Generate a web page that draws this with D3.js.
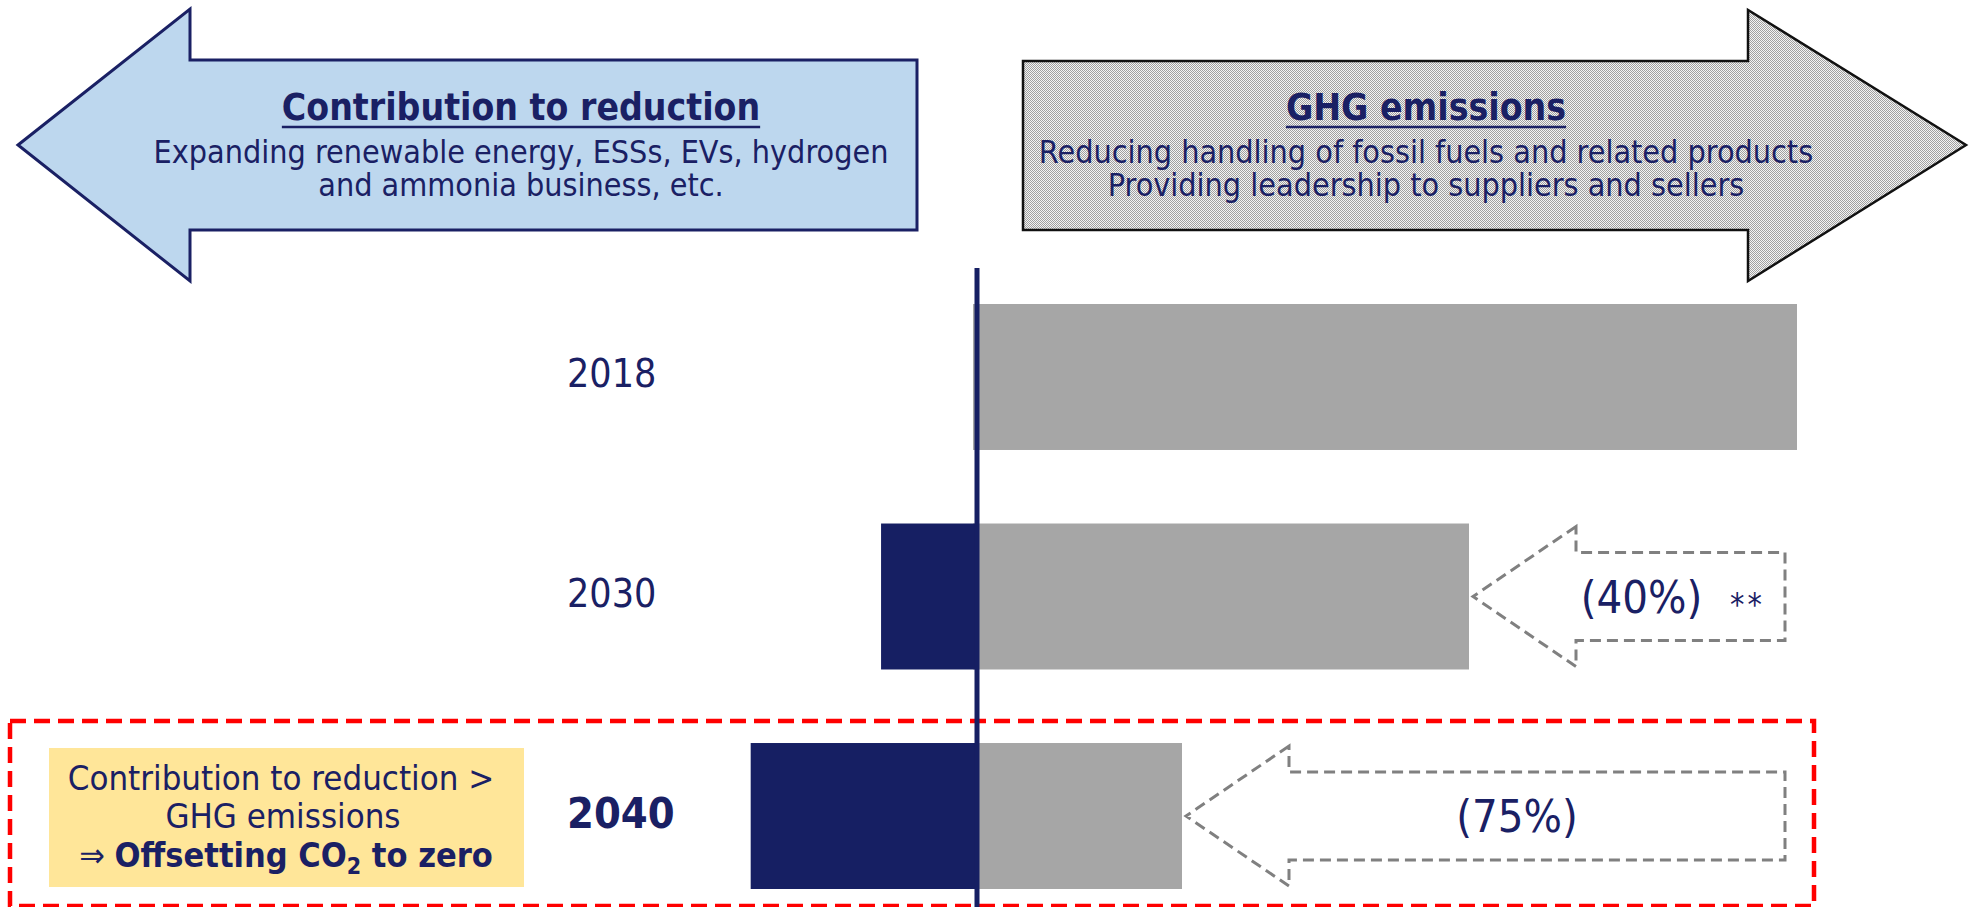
<!DOCTYPE html>
<html>
<head>
    <script src="https://d3js.org/d3.v7.min.js"></script>
    <style>
        body { margin: 0; background: #fff; }
        text {
            font-family: "DejaVu Sans Condensed", "DejaVu Sans", sans-serif;
            font-stretch: condensed;
            fill: #1a2064;
        }
    </style>
</head>
<body>
    <div id="chart"></div>
    <script>
        // data
        var years = ["2018", "2030", "2040"];
        var emissions = [100, 60, 25];          // GHG emissions, 2018 = 100
        var contributions = [0, 11.7, 27.6];    // contribution to reduction
        var reductionLabels = [null, "(40%)", "(75%)"];
        var noteMarks = [null, "**", null];

        var leftTitle = "Contribution to reduction";
        var leftLines = ["Expanding renewable energy, ESSs, EVs, hydrogen", "and ammonia business, etc."];
        var rightTitle = "GHG emissions";
        var rightLines = ["Reducing handling of fossil fuels and related products", "Providing leadership to suppliers and sellers"];

        var navy = "#161f63";
        var gray = "#a6a6a6";

        var svg = d3.select("#chart")
            .append("svg")
            .attr("width", 1970)
            .attr("height", 907);

        var defs = svg.append("defs");
        var pat = defs.append("pattern")
            .attr("id", "dots")
            .attr("width", 2)
            .attr("height", 2)
            .attr("patternUnits", "userSpaceOnUse");
        pat.append("rect").attr("width", 2).attr("height", 2).attr("fill", "#f4f4f4");
        pat.append("rect").attr("width", 1).attr("height", 1).attr("fill", "#a0a0a0");
        pat.append("rect").attr("x", 1).attr("y", 1).attr("width", 1).attr("height", 1).attr("fill", "#a0a0a0");

        var x = d3.scaleLinear().domain([0, 100]).range([977, 1797]);
        var y = d3.scaleBand().domain(years).range([304, 889]).paddingInner(0.335).paddingOuter(0);

        // big arrows on top
        var line = d3.line();
        svg.append("path")
            .attr("d", line([[18, 145], [190, 9], [190, 60], [917, 60], [917, 230], [190, 230], [190, 281]]) + "Z")
            .attr("fill", "#bdd7ee")
            .attr("stroke", "#1a2064")
            .attr("stroke-width", 3);
        svg.append("path")
            .attr("d", line([[1023, 61], [1748, 61], [1748, 10], [1966, 145], [1748, 281], [1748, 230], [1023, 230]]) + "Z")
            .attr("fill", "url(#dots)")
            .attr("stroke", "#111")
            .attr("stroke-width", 2.5);

        // title + subtitle as one text block
        function block(cx, title, lines) {
            var t = svg.append("text")
                .attr("x", cx).attr("y", 120)
                .attr("text-anchor", "middle");
            var tt = t.append("tspan")
                .attr("x", cx)
                .style("font-weight", "bold")
                .style("font-size", "37px")
                .text(title);
            lines.forEach(function (l, i) {
                t.append("tspan")
                    .attr("x", cx)
                    .attr("dy", i == 0 ? 43 : 33)
                    .style("font-size", "32px")
                    .text(l);
            });
            // underline drawn as a line
            var w = tt.node().getComputedTextLength();
            svg.append("line")
                .attr("x1", cx - w / 2).attr("x2", cx + w / 2)
                .attr("y1", 127).attr("y2", 127)
                .attr("stroke", "#1a2064")
                .attr("stroke-width", 2.5);
        }
        block(521, leftTitle, leftLines);
        block(1426, rightTitle, rightLines);

        // red dashed frame around 2040
        svg.append("rect")
            .attr("x", 10).attr("y", 721)
            .attr("width", 1804).attr("height", 185)
            .attr("fill", "none")
            .attr("stroke", "#ff0000")
            .attr("stroke-width", 4.5)
            .attr("stroke-dasharray", "16,8");

        // bars
        svg.selectAll(".em")
            .data(years)
            .enter()
            .append("rect")
            .attr("class", "em")
            .attr("x", x(0) - 4)
            .attr("y", function (d) { return y(d); })
            .attr("width", function (d, i) { return x(emissions[i]) - x(0) + 4; })
            .attr("height", y.bandwidth())
            .attr("fill", gray);

        svg.selectAll(".co")
            .data(years)
            .enter()
            .append("rect")
            .attr("class", "co")
            .attr("x", function (d, i) { return x(-contributions[i]); })
            .attr("y", function (d) { return y(d); })
            .attr("width", function (d, i) { return x(0) - x(-contributions[i]); })
            .attr("height", y.bandwidth())
            .attr("fill", navy);

        // zero line
        svg.append("line")
            .attr("x1", x(0)).attr("x2", x(0))
            .attr("y1", 268).attr("y2", 907)
            .attr("stroke", navy)
            .attr("stroke-width", 5);

        // year labels
        svg.selectAll(".yr")
            .data(years)
            .enter()
            .append("text")
            .attr("class", "yr")
            .attr("x", 567)
            .attr("y", function (d, i) { return y(d) + y.bandwidth() / 2 + (i == 2 ? 12 : 10); })
            .style("font-size", function (d, i) { return i == 2 ? "43px" : "39px"; })
            .style("font-weight", function (d, i) { return i == 2 ? "bold" : "normal"; })
            .text(function (d) { return d; });

        // dashed reduction arrows
        years.forEach(function (d, i) {
            if (!reductionLabels[i]) return;
            var cy = y(d) + y.bandwidth() / 2;
            var tip = x(emissions[i]) + 4;
            var base = tip + 103;
            var right = x(100) - 12;
            svg.append("path")
                .attr("d", line([[base, cy - 70], [tip, cy], [base, cy + 70], [base, cy + 44], [right, cy + 44], [right, cy - 44], [base, cy - 44]]) + "Z")
                .attr("fill", "none")
                .attr("stroke", "#808080")
                .attr("stroke-width", 3)
                .attr("stroke-dasharray", "11,6");
            var lx = (base + right) / 2 - (noteMarks[i] ? 39 : 20);
            svg.append("text")
                .attr("x", lx)
                .attr("y", cy + 16)
                .attr("text-anchor", "middle")
                .style("font-size", "45px")
                .text(reductionLabels[i]);
            if (noteMarks[i]) {
                svg.append("text")
                    .attr("x", 1730)
                    .attr("y", cy + 18)
                    .style("font-size", "32px")
                    .style("letter-spacing", "3px")
                    .text(noteMarks[i]);
            }
        });

        // yellow note box
        svg.append("rect")
            .attr("x", 49).attr("y", 748)
            .attr("width", 475).attr("height", 139)
            .attr("fill", "#ffe699");
        svg.append("text")
            .attr("x", 281).attr("y", 790)
            .attr("text-anchor", "middle")
            .style("font-size", "34.5px")
            .text("Contribution to reduction >");
        svg.append("text")
            .attr("x", 283).attr("y", 828)
            .attr("text-anchor", "middle")
            .style("font-size", "34.5px")
            .text("GHG emissions");
        var t3 = svg.append("text")
            .attr("x", 286).attr("y", 867)
            .attr("text-anchor", "middle")
            .style("font-size", "34px");
        t3.append("tspan").text("\u21d2 ");
        t3.append("tspan").style("font-weight", "bold").text("Offsetting CO");
        t3.append("tspan").style("font-weight", "bold").style("font-size", "23px").attr("dy", 7).text("2");
        t3.append("tspan").style("font-weight", "bold").attr("dy", -7).text(" to zero");
    </script>
</body>
</html>
